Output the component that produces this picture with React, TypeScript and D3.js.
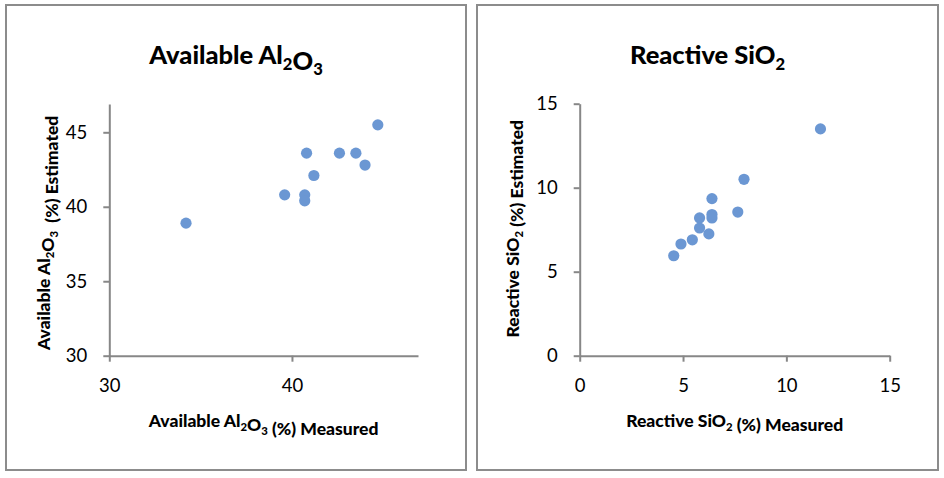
import * as d3 from "d3";
import React, { useEffect, useRef } from "react";

// Available Al2O3 (%)
const alMeasured = [34.2, 39.6, 40.7, 40.7, 40.8, 41.2, 42.6, 43.5, 44.0, 44.7];
const alEstimated = [38.9, 40.8, 40.8, 40.4, 43.6, 42.1, 43.6, 43.6, 42.8, 45.5];
const alTicksX = [30, 40];
const alTicksY = [30, 35, 40, 45];

// Reactive SiO2 (%)
const siMeasured = [4.55, 4.9, 5.45, 5.8, 5.8, 6.25, 6.4, 6.4, 6.4, 7.65, 7.95, 11.65];
const siEstimated = [5.95, 6.65, 6.9, 7.6, 8.2, 7.25, 8.2, 8.4, 9.35, 8.55, 10.5, 13.5];
const siTicksX = [0, 5, 10, 15];
const siTicksY = [0, 5, 10, 15];

const colorDot = "#6b97d3";
const colorAxis = "#878787";
const colorBorder = "#8c8c8c";
const font = "Lato, 'Open Sans', sans-serif";

// [text, isSubscript]
type Part = [string, boolean];

const richText = (sel, parts: Part[], size: number) => {
  parts.forEach(([t, sub]) => {
    sel
      .append("tspan")
      .attr("font-size", sub ? size * 0.65 : size)
      .attr("dy", sub ? size * 0.22 : 0)
      .text(t);
    if (sub) {
      // 다음 조각을 원래 기준선으로 되돌리기
      sel.append("tspan").attr("font-size", size).attr("dy", -size * 0.22).text("");
    }
  });
};

const Panel = ({ svg, box, plot, xs, ys, xDomain, yDomain, xTicks, yTicks, title, xLabel, yLabel, yLabelPos }) => {
  // 패널 테두리
  svg
    .append("rect")
    .attr("x", box.x)
    .attr("y", box.y)
    .attr("width", box.w)
    .attr("height", box.h)
    .attr("fill", "white")
    .attr("stroke", colorBorder)
    .attr("stroke-width", 2);

  const x = d3.scaleLinear().domain(xDomain).range([plot.x, plot.x + plot.w]);
  const y = d3.scaleLinear().domain(yDomain).range([plot.y + plot.h, plot.y]);

  // x축
  const gx = svg
    .append("g")
    .attr("transform", `translate(0, ${plot.y + plot.h})`)
    .call(d3.axisBottom(x).tickValues(xTicks).tickSize(6).tickSizeOuter(0).tickPadding(17));
  // y축
  const gy = svg
    .append("g")
    .attr("transform", `translate(${plot.x}, 0)`)
    .call(d3.axisLeft(y).tickValues(yTicks).tickSize(6).tickSizeOuter(0).tickPadding(16));

  [gx, gy].forEach((g) => {
    g.selectAll("path, line").attr("stroke", colorAxis).attr("stroke-width", 2);
    g.selectAll("text")
      .attr("fill", "#000")
      .attr("font-family", font)
      .attr("font-size", 18.5);
  });

  // 점
  svg
    .append("g")
    .selectAll("circle")
    .data(xs.map((v, i) => [v, ys[i]]))
    .enter()
    .append("circle")
    .attr("cx", (d) => x(d[0]))
    .attr("cy", (d) => y(d[1]))
    .attr("r", 5.6)
    .attr("fill", colorDot);

  // 제목
  const t = svg
    .append("text")
    .attr("x", box.x + box.w / 2)
    .attr("y", 64)
    .attr("text-anchor", "middle")
    .attr("font-family", font)
    .attr("font-weight", 900);
  richText(t, title, 25.5);

  // x축 제목
  const xl = svg
    .append("text")
    .attr("x", plot.x + plot.w / 2)
    .attr("y", 427)
    .attr("text-anchor", "middle")
    .attr("font-family", font)
    .attr("font-weight", 900);
  richText(xl, xLabel, 17.5);

  // y축 제목
  const yl = svg
    .append("text")
    .attr("transform", `translate(${box.x + yLabelPos[0]}, ${plot.y + plot.h / 2 + yLabelPos[1]}) rotate(-90)`)
    .attr("text-anchor", "middle")
    .attr("font-family", font)
    .attr("font-weight", 900)
    .style("white-space", "pre");
  richText(yl, yLabel, 17.5);
};

const App = () => {
  const ref = useRef(null);

  useEffect(() => {
    d3.select(ref.current).selectAll("*").remove();
    const svg = d3
      .select(ref.current)
      .append("svg")
      .attr("width", 944)
      .attr("height", 478)
      .style("position", "absolute")
      .style("left", 0)
      .style("top", 0)
      .style("background", "white");

    Panel({
      svg,
      box: { x: 6, y: 5, w: 460, h: 465 },
      plot: { x: 109.3, y: 104, w: 308.7, h: 251.7 },
      xs: alMeasured,
      ys: alEstimated,
      xDomain: [30, 46.9],
      yDomain: [30, 46.9],
      xTicks: alTicksX,
      yTicks: alTicksY,
      yLabelPos: [44, 3],
      title: [["Available Al", false], ["2", true], ["O", false], ["3", true]],
      xLabel: [["Available Al", false], ["2", true], ["O", false], ["3", true], [" (%) Measured", false]],
      yLabel: [["Available Al", false], ["2", true], ["O", false], ["3", true], ["  (%) Estimated", false]],
    });

    Panel({
      svg,
      box: { x: 477, y: 5, w: 461, h: 465 },
      plot: { x: 579.7, y: 103.7, w: 310, h: 252 },
      xs: siMeasured,
      ys: siEstimated,
      xDomain: [0, 15],
      yDomain: [0, 15],
      xTicks: siTicksX,
      yTicks: siTicksY,
      yLabelPos: [42, -1],
      title: [["Reactive SiO", false], ["2", true]],
      xLabel: [["Reactive SiO", false], ["2", true], [" (%) Measured", false]],
      yLabel: [["Reactive SiO", false], ["2", true], [" (%) Estimated", false]],
    });
  }, []);

  return <div ref={ref} />;
};

export default App;
